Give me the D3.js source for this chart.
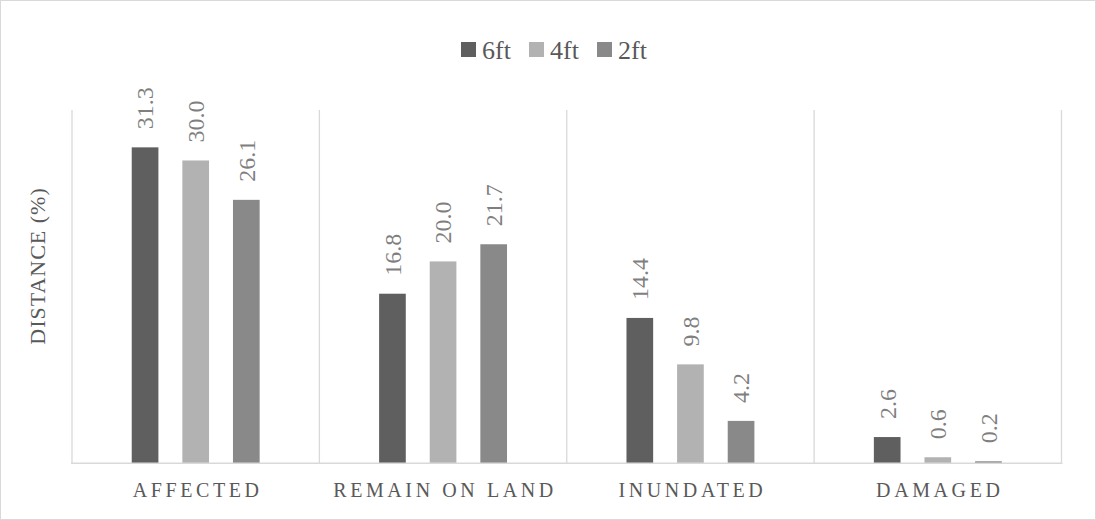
<!DOCTYPE html>
<html><head><meta charset="utf-8">
<script src="https://cdn.jsdelivr.net/npm/d3@7"></script>
<style>
html,body{margin:0;padding:0;background:#fff;}
svg text{font-family:'Liberation Serif','Times New Roman',Times,'DejaVu Serif',serif;}
</style></head>
<body><svg id="c" width="1096" height="520"></svg>
<script>
const categories = ["AFFECTED","REMAIN ON LAND","INUNDATED","DAMAGED"];
const seriesNames = ["6ft","4ft","2ft"];
const s6ft = [31.3, 16.8, 14.4, 2.6];
const s4ft = [30.0, 20.0, 9.8, 0.6];
const s2ft = [26.1, 21.7, 4.2, 0.2];
const colors = ["#5f5f5f","#b2b2b2","#898989"];
const seriesValues = [s6ft, s4ft, s2ft];

const svg = d3.select("#c");
const W = 1096, H = 520;
const m = {left:72, right:1061.5, top:110, bottom:463.3};

svg.append("rect").attr("x",0.5).attr("y",0.5).attr("width",W-1).attr("height",H-1)
  .attr("fill","#fff").attr("stroke","#d9d9d9");

const x0 = d3.scaleBand().domain(categories).range([m.left, m.right]).padding(0);
const x1 = d3.scaleBand().domain(seriesNames).range([0, x0.bandwidth()]).paddingInner(0.473).paddingOuter(1.18);
const y = d3.scaleLinear().domain([0,35]).range([m.bottom, m.top]);

const seps = categories.map(c => x0(c)).concat([m.right]);
svg.append("g").selectAll("line").data(seps).join("line")
  .attr("x1",d=>d).attr("x2",d=>d).attr("y1",m.top).attr("y2",m.bottom)
  .attr("stroke","#d9d9d9").attr("stroke-width",1.3);

const data = [];
categories.forEach((c,i)=>seriesNames.forEach((s,j)=>data.push({c,s,j,v:seriesValues[j][i]})));
const g = svg.append("g");
g.selectAll("rect").data(data).join("rect")
  .attr("x",d=>x0(d.c)+x1(d.s)).attr("width",x1.bandwidth())
  .attr("y",d=>y(d.v)).attr("height",d=>y(0)-y(d.v))
  .attr("fill",d=>colors[d.j]);

svg.append("line").attr("x1",m.left-1).attr("x2",m.right+1).attr("y1",y(0)).attr("y2",y(0))
  .attr("stroke","#d9d9d9").attr("stroke-width",1.5);

g.selectAll("text").data(data).join("text")
  .attr("transform",d=>`translate(${x0(d.c)+x1(d.s)+x1.bandwidth()/2},${y(d.v)-18}) rotate(-90)`)
  .attr("dy","0.35em").attr("text-anchor","start")
  .attr("font-size",24).attr("fill","#7f7f7f")
  .text(d=>d.v.toFixed(1));

svg.append("g").selectAll("text").data(categories).join("text")
  .attr("x",d=>x0(d)+x0.bandwidth()/2+2).attr("y",497)
  .attr("text-anchor","middle").attr("font-size",20).attr("letter-spacing","3.6px")
  .attr("fill","#595959").text(d=>d);

svg.append("text").attr("transform","translate(45,266) rotate(-90)")
  .attr("text-anchor","middle").attr("font-size",22).attr("letter-spacing","1px")
  .attr("fill","#595959").text("DISTANCE (%)");

const legX = [461, 529, 597];
const lg = svg.append("g").selectAll("g").data(seriesNames).join("g")
  .attr("transform",(d,i)=>`translate(${legX[i]},42)`);
lg.append("rect").attr("width",15).attr("height",15).attr("fill",(d,i)=>colors[i]);
lg.append("text").attr("x",21).attr("y",17).attr("font-size",26).attr("fill","#595959").text(d=>d);
</script></body></html>
